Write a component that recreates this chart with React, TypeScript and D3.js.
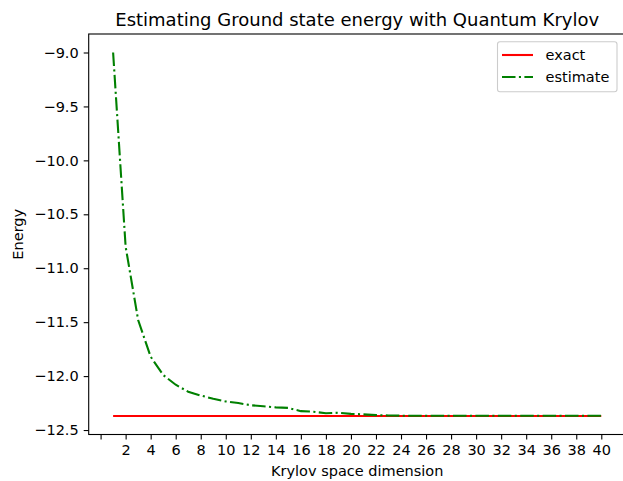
import React, { useEffect, useRef } from "react";
import * as d3 from "d3";

// Krylov space dimensions (x values)
const dims: number[] = d3.range(1, 41);

// exact ground state energy (flat reference)
const exactEnergy: number[] = dims.map(() => -12.37);

// estimated energies
const estimateEnergy: number[] = [
  -9.0, -10.8, -11.48, -11.82, -11.99, -12.08, -12.145, -12.18, -12.21, -12.235,
  -12.25, -12.27, -12.28, -12.29, -12.295, -12.325, -12.33, -12.345, -12.34, -12.35,
  -12.355, -12.362, -12.365, -12.367, -12.367, -12.368, -12.368, -12.368, -12.368, -12.368,
  -12.368, -12.368, -12.368, -12.368, -12.368, -12.368, -12.368, -12.368, -12.368, -12.368,
];

const xTicks: number[] = d3.range(0, 41, 2);
const yTicks: number[] = [-12.5, -12.0, -11.5, -11.0, -10.5, -10.0, -9.5, -9.0];

const FONT = "DejaVu Sans, sans-serif";

function App() {
  const svgRef = useRef<SVGSVGElement | null>(null);

  useEffect(() => {
    const width = 623;
    const height = 481;
    const margin = { top: 34, left: 88.7, right: 625.7, bottom: 434.5 };
    const fs = "14.5px";
    const lw = 2.1;
    const dash = "13.5,3.4,2.1,3.4";

    const svg = d3.select(svgRef.current);
    svg.selectAll("*").remove();
    svg.attr("width", width).attr("height", height);

    svg.append("rect").attr("width", width).attr("height", height).attr("fill", "#fff");

    // matplotlib-like auto limits with 5% padding
    const xScale = d3.scaleLinear().domain([-0.95, 41.95]).range([margin.left, margin.right]);
    const yScale = d3.scaleLinear().domain([-12.5415, -8.8285]).range([margin.bottom, margin.top]);

    const minus = (s: string) => s.replace("-", "\u2212");

    // lines
    const line = d3
      .line<number>()
      .x((_, i) => xScale(dims[i]))
      .y((d) => yScale(d));

    svg
      .append("path")
      .attr("d", line(exactEnergy))
      .attr("fill", "none")
      .attr("stroke", "#ff0000")
      .attr("stroke-width", lw);

    svg
      .append("path")
      .attr("d", line(estimateEnergy))
      .attr("fill", "none")
      .attr("stroke", "#008000")
      .attr("stroke-width", lw)
      .attr("stroke-dasharray", dash);

    // axes
    const xAxis = d3
      .axisBottom(xScale)
      .tickValues(xTicks)
      .tickSize(5)
      .tickPadding(5)
      .tickFormat((d) => (d === 0 ? "" : String(d)));
    const gx = svg.append("g").attr("transform", `translate(0 ${margin.bottom})`).call(xAxis);

    const yAxis = d3
      .axisLeft(yScale)
      .tickValues(yTicks)
      .tickSize(5)
      .tickPadding(5)
      .tickFormat((d) => minus(d3.format(".1f")(d as number)));
    const gy = svg.append("g").attr("transform", `translate(${margin.left} 0)`).call(yAxis);

    [gx, gy].forEach((g) => {
      g.select(".domain").remove();
      g.selectAll(".tick line").attr("stroke", "#000").attr("stroke-width", 1.1);
      g.selectAll(".tick text")
        .attr("fill", "#000")
        .style("font-family", FONT)
        .style("font-size", fs);
    });

    // spines
    svg
      .append("rect")
      .attr("x", margin.left)
      .attr("y", margin.top)
      .attr("width", margin.right - margin.left)
      .attr("height", margin.bottom - margin.top)
      .attr("fill", "none")
      .attr("stroke", "#000")
      .attr("stroke-width", 1.1);

    // title and labels
    svg
      .append("text")
      .attr("x", (margin.left + margin.right) / 2)
      .attr("y", 26)
      .attr("text-anchor", "middle")
      .style("font-family", FONT)
      .style("font-size", "18px")
      .text("Estimating Ground state energy with Quantum Krylov");

    svg
      .append("text")
      .attr("x", (margin.left + margin.right) / 2)
      .attr("y", 476)
      .attr("text-anchor", "middle")
      .style("font-family", FONT)
      .style("font-size", fs)
      .text("Krylov space dimension");

    svg
      .append("text")
      .attr("transform", `translate(23 ${(margin.top + margin.bottom) / 2}) rotate(-90)`)
      .attr("text-anchor", "middle")
      .style("font-family", FONT)
      .style("font-size", fs)
      .text("Energy");

    // legend
    const legend = svg.append("g");
    legend
      .append("rect")
      .attr("x", 497.5)
      .attr("y", 41.7)
      .attr("width", 119.5)
      .attr("height", 50)
      .attr("rx", 2.5)
      .attr("fill", "#fff")
      .attr("fill-opacity", 0.8)
      .attr("stroke", "#cccccc")
      .attr("stroke-width", 1.1);

    const entries = [
      { label: "exact", color: "#ff0000", dash: "none", y: 55 },
      { label: "estimate", color: "#008000", dash: dash, y: 77 },
    ];
    entries.forEach((e) => {
      legend
        .append("line")
        .attr("x1", 502)
        .attr("x2", 533)
        .attr("y1", e.y)
        .attr("y2", e.y)
        .attr("stroke", e.color)
        .attr("stroke-width", lw)
        .attr("stroke-dasharray", e.dash);
      legend
        .append("text")
        .attr("x", 545.5)
        .attr("y", e.y)
        .attr("dy", "0.35em")
        .style("font-family", FONT)
        .style("font-size", fs)
        .text(e.label);
    });
  }, []);

  return <svg ref={svgRef} style={{ position: "absolute", left: 0, top: 0 }} />;
}

export default App;
